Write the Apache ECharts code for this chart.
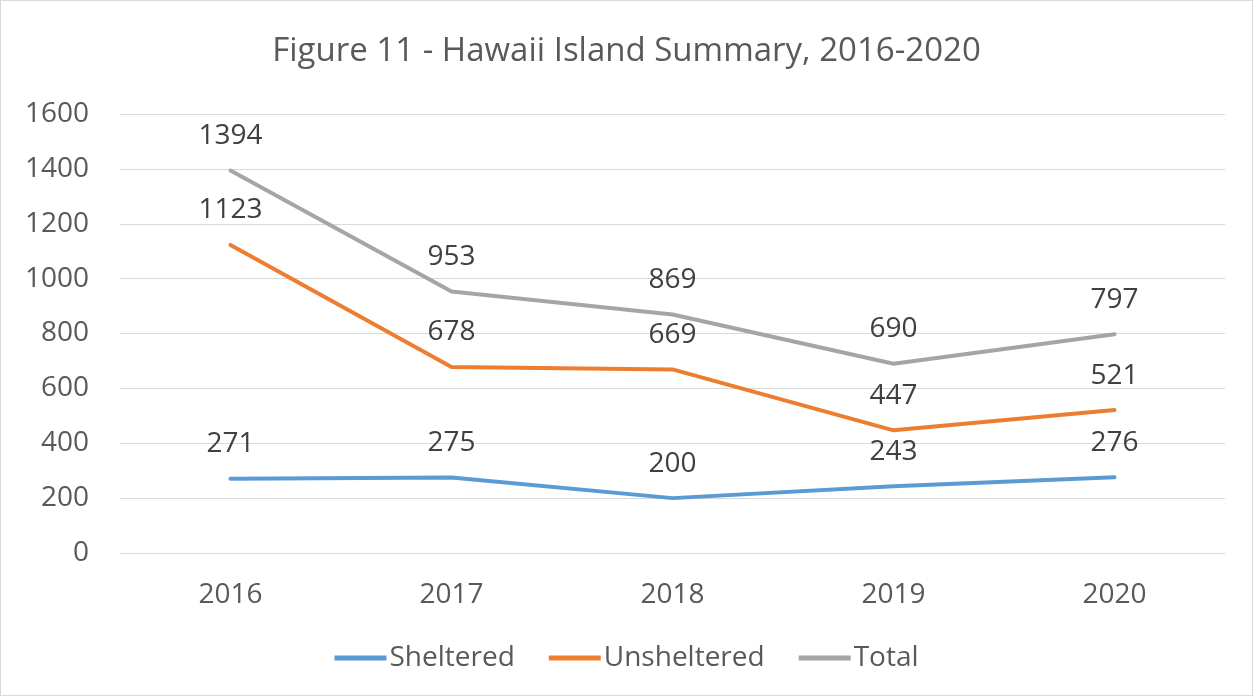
<!DOCTYPE html>
<html>
<head>
<meta charset="utf-8">
<script src="https://cdn.jsdelivr.net/npm/echarts@6/dist/echarts.min.js"></script>
<style>
html,body{margin:0;padding:0;background:#fff;}
#c{width:1253px;height:696px;box-sizing:border-box;border:1px solid #d9d9d9;}
</style>
</head>
<body>
<div id="c"></div>
<script>
const years = ['2016','2017','2018','2019','2020'];
const sheltered = [271, 275, 200, 243, 276];
const unsheltered = [1123, 678, 669, 447, 521];
const total = [1394, 953, 869, 690, 797];
const titleText = 'Figure 11 - Hawaii Island Summary, 2016-2020';

const font = 'Open Sans';
const chart = echarts.init(document.getElementById('c'), null, {renderer:'canvas'});
function mk(name, data, color){
  return {
    name, type:'line', data, symbol:'circle', symbolSize:1, showSymbol:true,
    lineStyle:{width:4, color, cap:'round', join:'round'},
    itemStyle:{color, opacity:0},
    label:{show:true, position:'top', distance:20, fontFamily:font, fontSize:28, color:'#404040', opacity:1},
    emphasis:{disabled:true}
  };
}
chart.setOption({
  animation:false,
  title:{text:titleText, left:'center', top:29,
    textStyle:{fontFamily:font, fontSize:33, fontWeight:'normal', color:'#595959'}},
  grid:{left:119, right:27, top:113, bottom:142, containLabel:false},
  legend:{bottom:18, left:'center', itemWidth:52, itemHeight:5, itemGap:34,
    icon:'rect',
    itemStyle:{opacity:1},
    textStyle:{fontFamily:font, fontSize:28, color:'#595959', padding:[0,0,0,-2]},
    data:['Sheltered','Unsheltered','Total']},
  xAxis:{type:'category', data:years, boundaryGap:true,
    axisLine:{lineStyle:{color:'#d9d9d9', width:1}},
    axisTick:{show:false},
    axisLabel:{fontFamily:font, fontSize:28, color:'#595959', margin:28}},
  yAxis:{type:'value', min:0, max:1600, interval:200,
    axisLine:{show:false}, axisTick:{show:false},
    splitLine:{lineStyle:{color:'#d9d9d9', width:1}},
    axisLabel:{fontFamily:font, fontSize:28, color:'#595959', margin:31, formatter:v=>String(v)}},
  series:[mk('Sheltered', sheltered, '#5B9BD5'), mk('Unsheltered', unsheltered, '#ED7D31'), mk('Total', total, '#A5A5A5')]
});
</script>
</body>
</html>
